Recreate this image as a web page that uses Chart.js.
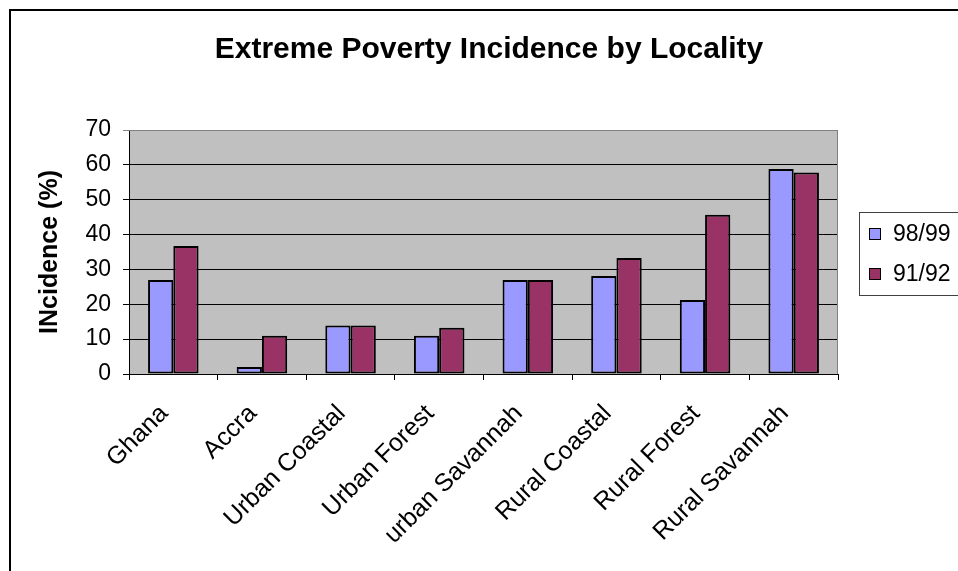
<!DOCTYPE html>
<html>
<head>
<meta charset="utf-8">
<script src="https://cdn.jsdelivr.net/npm/chart.js@4"></script>
<style>
html,body{margin:0;padding:0;background:#fff;}
#wrap{width:958px;height:571px;position:relative;}
</style>
</head>
<body>
<div id="wrap"><canvas id="c" width="958" height="571"></canvas></div>
<script>
const categories = ["Ghana","Accra","Urban Coastal","Urban Forest","urban Savannah","Rural Coastal","Rural Forest","Rural Savannah"];
const series9899 = [27.0, 2.0, 13.9, 11.0, 27.0, 28.1, 21.2, 58.8];
const series9192 = [36.7, 11.0, 13.9, 13.3, 27.0, 33.3, 45.7, 57.8];
const yTicks = [0,10,20,30,40,50,60,70];
const chartTitle = 'Extreme Poverty Incidence by Locality';
const FONT = "'Liberation Sans', Arial, sans-serif";

const bgPlugin = {
  id: 'bg',
  beforeDraw(chart) {
    const {ctx, chartArea:a} = chart;
    ctx.save();
    ctx.fillStyle = '#fff';
    ctx.fillRect(0,0,chart.width,chart.height);
    ctx.fillStyle = '#C0C0C0';
    ctx.fillRect(a.left, a.top, a.right-a.left, a.bottom-a.top);
    ctx.restore();
  },
  beforeDatasetsDraw(chart) {
    const {ctx, chartArea:a} = chart;
    ctx.save();
    ctx.strokeStyle = '#808080';
    ctx.lineWidth = 1;
    ctx.beginPath();
    ctx.moveTo(a.left, a.top+0.5);
    ctx.lineTo(a.right-0.5, a.top+0.5);
    ctx.lineTo(a.right-0.5, a.bottom);
    ctx.stroke();
    ctx.restore();
  },
  afterDraw(chart) {
    const ctx = chart.ctx;
    ctx.save();
    // outer frame
    ctx.strokeStyle = '#000';
    ctx.lineWidth = 2;
    ctx.beginPath();
    ctx.moveTo(10, 580);
    ctx.lineTo(10, 10);
    ctx.lineTo(970, 10);
    ctx.stroke();
    // title
    ctx.fillStyle = '#000';
    ctx.font = 'bold 30px ' + FONT;
    ctx.textAlign = 'center';
    ctx.textBaseline = 'middle';
    ctx.fillText(chartTitle, 489, 50);
    // legend
    ctx.lineWidth = 1;
    ctx.strokeStyle = '#404040';
    ctx.strokeRect(859.5, 212.5, 110, 83);
    const ds = chart.data.datasets;
    const ys = [234, 274];
    ctx.font = '23px ' + FONT;
    ctx.textBaseline = 'middle';
    ctx.textAlign = 'left';
    ds.forEach((d, i) => {
      ctx.fillStyle = d.backgroundColor;
      ctx.fillRect(869, ys[i]-6, 11, 11);
      ctx.strokeStyle = '#000';
      ctx.strokeRect(869.5, ys[i]-5.5, 11, 11);
      ctx.fillStyle = '#000';
      ctx.fillText(d.label, 893, ys[i]+1);
    });
    ctx.restore();
  }
};

new Chart(document.getElementById('c'), {
  type: 'bar',
  data: {
    labels: categories,
    datasets: [
      {label: '98/99', data: series9899, backgroundColor: '#9999FF', borderColor: '#000', borderWidth: 2, borderSkipped: false},
      {label: '91/92', data: series9192, backgroundColor: '#993366', borderColor: '#000', borderWidth: 2, borderSkipped: false}
    ]
  },
  options: {
    responsive: false,
    animation: false,
    devicePixelRatio: 1,
    layout: {padding: {left: 0, right: 120, top: 130, bottom: 0}},
    datasets: {bar: {categoryPercentage: 0.57, barPercentage: 1.0}},
    plugins: {
      legend: {display: false},
      tooltip: {enabled: false},
      title: {display: false}
    },
    scales: {
      x: {
        offset: true,
        grid: {display: true, drawOnChartArea: false, drawTicks: true, tickLength: 6, color: '#000', offset: true},
        border: {display: true, color: '#000', width: 1},
        ticks: {color: '#000', font: {family: FONT, size: 25}, minRotation: 45, maxRotation: 45, padding: 19, labelOffset: -9, autoSkip: false},
        afterFit(s) { s.height = 197; }
      },
      y: {
        min: 0, max: 70,
        afterBuildTicks(s) { s.ticks = yTicks.map(v => ({value: v})); },
        grid: {color: (c) => (c.tick && c.tick.value === 70 ? '#808080' : '#000'), tickLength: 6, drawTicks: true},
        border: {display: true, color: '#000', width: 1},
        ticks: {color: '#000', font: {family: FONT, size: 23}, padding: 12},
        title: {display: true, text: 'INcidence (%)', color: '#000', font: {family: FONT, size: 25, weight: 'bold', lineHeight: 1.2}, padding: {top: 35, bottom: 0}},
        afterFit(s) { s.width = 129; }
      }
    }
  },
  plugins: [bgPlugin]
});
</script>
</body>
</html>
